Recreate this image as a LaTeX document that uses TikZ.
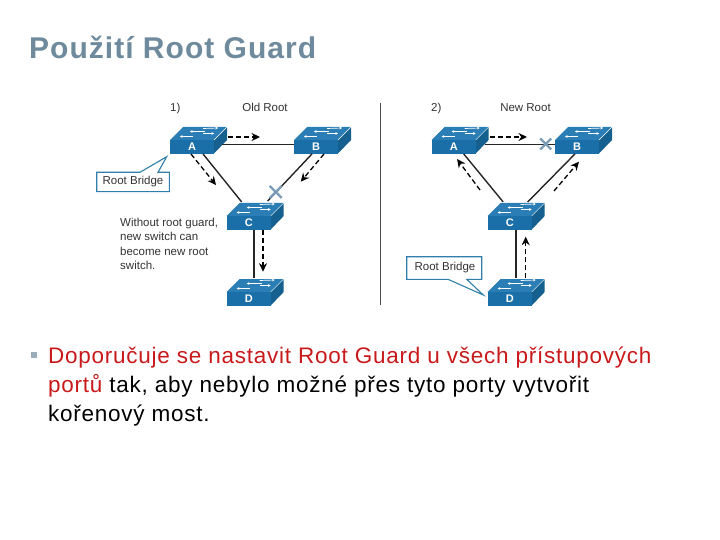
\documentclass[tikz,border=0pt]{standalone}
\usepackage{fontspec}
\setmainfont{Liberation Sans}
\newfontfamily\titlefont[LetterSpace=3.4]{Liberation Sans Bold}
\newfontfamily\bodyfont[LetterSpace=3.3]{Liberation Sans}
\usetikzlibrary{arrows.meta}
\definecolor{swfront}{HTML}{1B6FA8}
\definecolor{swtop}{HTML}{2A7DB5}
\definecolor{swside}{HTML}{15608F}
\definecolor{titleblue}{HTML}{6E8A9C}
\definecolor{callout}{HTML}{2F7FA8}
\definecolor{xmark}{HTML}{7B9CB8}
\definecolor{bodyred}{HTML}{C8191B}
\tikzset{
  swbox/.style={fill=swfront,draw=none,minimum width=44pt,minimum height=13.5pt,inner sep=0pt,anchor=north west,
    text=white,font=\fontsize{11}{11}\selectfont\bfseries},
  link/.style={line width=1.4pt,draw=black!85},
  thicklink/.style={line width=2pt,draw=black!85},
  flow/.style={line width=1.3pt,dash pattern=on 5pt off 3pt,-{Stealth[length=8.5pt,width=8pt]}},
  toparrow/.style={white,line width=.7pt,-{Stealth[length=2.6pt,width=2.8pt]}},
  xm/.style={draw=xmark,line width=2.2pt},
  calloutline/.style={draw=callout,line width=1.1pt,fill=white,line join=miter},
  fig/.style={font=\fontsize{11.5}{13}\selectfont,text=black!80,inner sep=0pt},
}
\newcommand{\swicon}[4]{%
  \begin{scope}[shift={(#2,#3)}]
    \fill[swtop] (0,0) -- (13,-13) -- (57,-13) -- (44,0) -- cycle;
    \fill[swside] (44,0) -- (57,-13) -- (57,0) -- (44,13.5) -- cycle;
    \draw[white,line width=.4pt] (44,0) -- (57,-13);
    \draw[toparrow] (33,-11.5) -- (48,-12);
    \draw[toparrow] (35,-8.5) -- (20,-8.5);
    \draw[toparrow] (33,-6.5) -- (44,-6.5);
    \draw[toparrow] (23,-3.5) -- (10,-3.5);
    \node[swbox] (#1) at (0,0) {#4};
  \end{scope}}
\begin{document}
\begin{tikzpicture}[x=1pt,y=-1pt]
\useasboundingbox (0,0) rectangle (720,540);
\node[anchor=base west,inner sep=0pt,text=titleblue,font=\fontsize{30}{30}\titlefont] (title) at (29,59) {Použití Root Guard};

% left part
\swicon{la}{170}{140}{A}
\swicon{lb}{294}{140}{B}
\swicon{lc}{226.7}{216}{C}
\swicon{ld}{226.7}{292}{D}
\draw[link] ([xshift=8pt,yshift=9.5pt]la.south east) -- ([yshift=9.5pt]lb.south west);
\draw[link] ([xshift=33pt]la.south west) -- ([xshift=15pt,yshift=14pt]lc.north west);
\draw[link] ([xshift=18pt]lb.south west) -- ([xshift=41pt,yshift=15pt]lc.north west);
\draw[thicklink] ([xshift=27.5pt]lc.south west) -- ([xshift=27.5pt,yshift=14pt]ld.north west);
\coordinate (lf1a) at (228,137); \coordinate (lf1b) at (260,137);
\coordinate (lf2a) at (191,154); \coordinate (lf2b) at (216,185);
\coordinate (lf3a) at (324,154); \coordinate (lf3b) at (300.7,181.7);
\coordinate (lf4a) at (263,230); \coordinate (lf4b) at (263,271.7);
\draw[flow] (lf1a) -- (lf1b);
\draw[flow] (lf2a) -- (lf2b);
\draw[flow] (lf3a) -- (lf3b);
\draw[flow] (lf4a) -- (lf4b);
\coordinate (lx) at (275.7,192);
\draw[xm] ([shift={(-6,-6)}]lx) -- ([shift={(6,6)}]lx);
\draw[xm] ([shift={(-6,6)}]lx) -- ([shift={(6,-6)}]lx);
\draw[calloutline] (96.7,172.3) -- (140,172.3) -- (166.7,156.7) -- (158,172.3) -- (169.3,172.3) -- (169.3,191.7) -- (96.7,191.7) -- cycle;
\node[fig] (lrb) at (133,182) {Root Bridge};
\node[fig,anchor=base west] (l1) at (170,112) {1)};
\node[fig] (lold) at (265,107.5) {Old Root};
\node[fig,anchor=north west,align=left,font=\fontsize{11.5}{14.3}\selectfont] (lnote) at (120,218) {Without root guard,\\new switch can\\become new root\\switch.};

% divider
\node[inner sep=0pt,minimum width=0pt,minimum height=0pt] (dt) at (380,103) {};
\node[inner sep=0pt,minimum width=0pt,minimum height=0pt] (db) at (380,305) {};
\draw[line width=1pt,draw=black!70] (dt) -- (db);

% right part
\swicon{ra}{431.7}{140}{A}
\swicon{rb}{555}{140}{B}
\swicon{rc}{487.7}{216}{C}
\swicon{rd}{487.7}{292}{D}
\draw[link] ([xshift=8.5pt,yshift=9.5pt]ra.south east) -- ([yshift=9.5pt]rb.south west);
\draw[link] ([xshift=32pt]ra.south west) -- ([xshift=15.5pt,yshift=14pt]rc.north west);
\draw[link] ([xshift=20pt]rb.south west) -- ([xshift=40pt,yshift=14pt]rc.north west);
\draw[thicklink] ([xshift=28pt]rc.south west) -- ([xshift=28pt,yshift=14pt]rd.north west);
\coordinate (rf1a) at (490,137); \coordinate (rf1b) at (527,137);
\coordinate (rf2a) at (480,190); \coordinate (rf2b) at (457,159);
\coordinate (rf3a) at (554,191); \coordinate (rf3b) at (579,161.7);
\coordinate (rf4a) at (525.7,278); \coordinate (rf4b) at (525.7,236.7);
\draw[flow] (rf1a) -- (rf1b);
\draw[flow] (rf2a) -- (rf2b);
\draw[flow] (rf3a) -- (rf3b);
\draw[flow] (rf4a) -- (rf4b);
\coordinate (rx) at (545.7,144);
\draw[xm] ([shift={(-5.5,-5.5)}]rx) -- ([shift={(5.5,5.5)}]rx);
\draw[xm] ([shift={(-5.5,5.5)}]rx) -- ([shift={(5.5,-5.5)}]rx);
\draw[calloutline] (406.7,256.7) -- (481.7,256.7) -- (481.7,279.3) -- (466.7,279.3) -- (483.3,295) -- (448,279.3) -- (406.7,279.3) -- cycle;
\node[fig] (rrb) at (445,268) {Root Bridge};
\node[fig,anchor=base west] (r1) at (431,112) {2)};
\node[fig] (rnew) at (525.5,107.5) {New Root};

% body text
\fill[titleblue!70] (30.5,352) rectangle (36.5,358);
\node[anchor=base west,inner sep=0pt,font=\fontsize{22.5}{22.5}\bodyfont] (b1) at (48,363) {\textcolor{bodyred}{Doporučuje se nastavit Root Guard u všech přístupových}};
\node[anchor=base west,inner sep=0pt,font=\fontsize{22.5}{22.5}\bodyfont] (b2) at (48,392) {\textcolor{bodyred}{portů} tak, aby nebylo možné přes tyto porty vytvořit};
\node[anchor=base west,inner sep=0pt,font=\fontsize{22.5}{22.5}\bodyfont] (b3) at (48,421) {kořenový most.};
\end{tikzpicture}
\end{document}
